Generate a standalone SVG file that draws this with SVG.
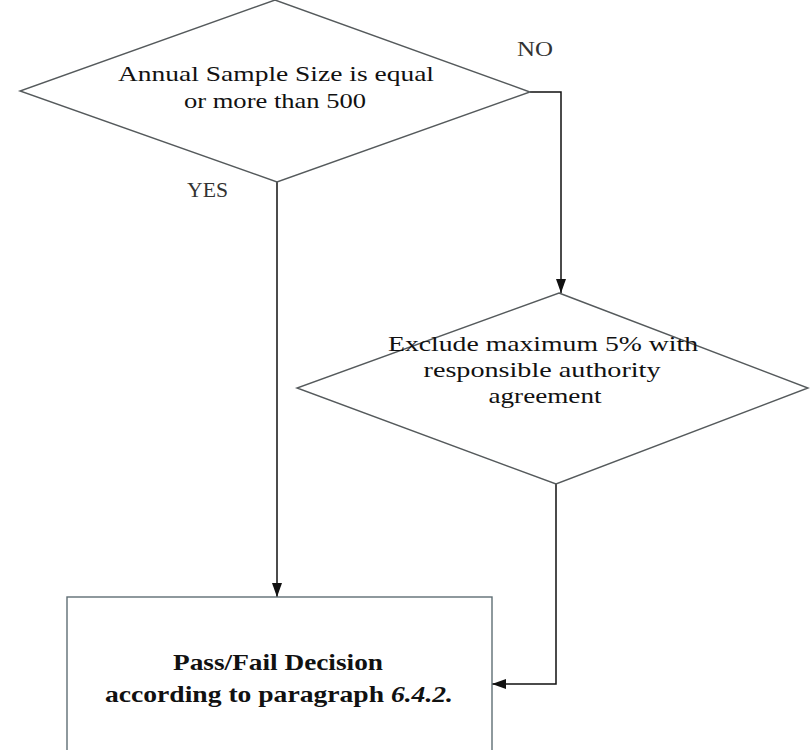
<svg xmlns="http://www.w3.org/2000/svg" width="810" height="750" viewBox="0 0 810 750">
  <style>
    .shape { fill: #ffffff; stroke: #555a5c; stroke-width: 1.4; }
    .box { fill: #ffffff; stroke: #5f6e74; stroke-width: 1.4; }
    .wire { fill: none; stroke: #111111; stroke-width: 1.5; }
    .label { font-family: "Liberation Serif", "Times New Roman", serif; font-size: 21px; fill: #111111; text-anchor: middle; }
    .edge { font-family: "Liberation Serif", "Times New Roman", serif; font-size: 21px; fill: #333333; }
    .strong { font-family: "Liberation Serif", "Times New Roman", serif; font-size: 23px; font-weight: bold; fill: #111111; text-anchor: middle; }
  </style>
  <defs>
    <marker id="arrow" viewBox="0 0 14 10" refX="14" refY="5" markerWidth="14" markerHeight="10" markerUnits="userSpaceOnUse" orient="auto">
      <path d="M0,0 L14,5 L0,10 Z" fill="#111111"/>
    </marker>
  </defs>
  <rect width="810" height="750" fill="#ffffff"/>

  <!-- connectors -->
  <g id="connectors">
    <polyline class="wire" points="530,92 561,92 561,293" marker-end="url(#arrow)"/>
    <line class="wire" x1="277" y1="182" x2="277" y2="597" marker-end="url(#arrow)"/>
    <polyline class="wire" points="556,484 556,684 492,684" marker-end="url(#arrow)"/>
    <text class="edge" x="517" y="56" textLength="36" lengthAdjust="spacingAndGlyphs">NO</text>
    <text class="edge" x="187" y="197" textLength="41" lengthAdjust="spacingAndGlyphs">YES</text>
  </g>

  <!-- decision: sample size -->
  <g id="decision-sample-size">
    <polygon class="shape" points="275,0 530,92 277,182 20,91"/>
    <text class="label" x="276" y="81" textLength="316" lengthAdjust="spacingAndGlyphs">Annual Sample Size is equal</text>
    <text class="label" x="275" y="108" textLength="182" lengthAdjust="spacingAndGlyphs">or more than 500</text>
  </g>

  <!-- decision: exclusion -->
  <g id="decision-exclude">
    <polygon class="shape" points="559,293 808,388 556,484 297,388"/>
    <text class="label" x="543" y="351" textLength="310" lengthAdjust="spacingAndGlyphs">Exclude maximum 5% with</text>
    <text class="label" x="542" y="377" textLength="237" lengthAdjust="spacingAndGlyphs">responsible authority</text>
    <text class="label" x="545" y="403" textLength="113" lengthAdjust="spacingAndGlyphs">agreement</text>
  </g>

  <!-- outcome -->
  <g id="pass-fail-decision">
    <rect class="box" x="67" y="597" width="425" height="170"/>
    <text class="strong" x="278" y="670" textLength="210" lengthAdjust="spacingAndGlyphs">Pass/Fail Decision</text>
    <text class="strong" x="279" y="702" textLength="348" lengthAdjust="spacingAndGlyphs">according to paragraph <tspan font-style="italic">6.4.2.</tspan></text>
  </g>
</svg>
